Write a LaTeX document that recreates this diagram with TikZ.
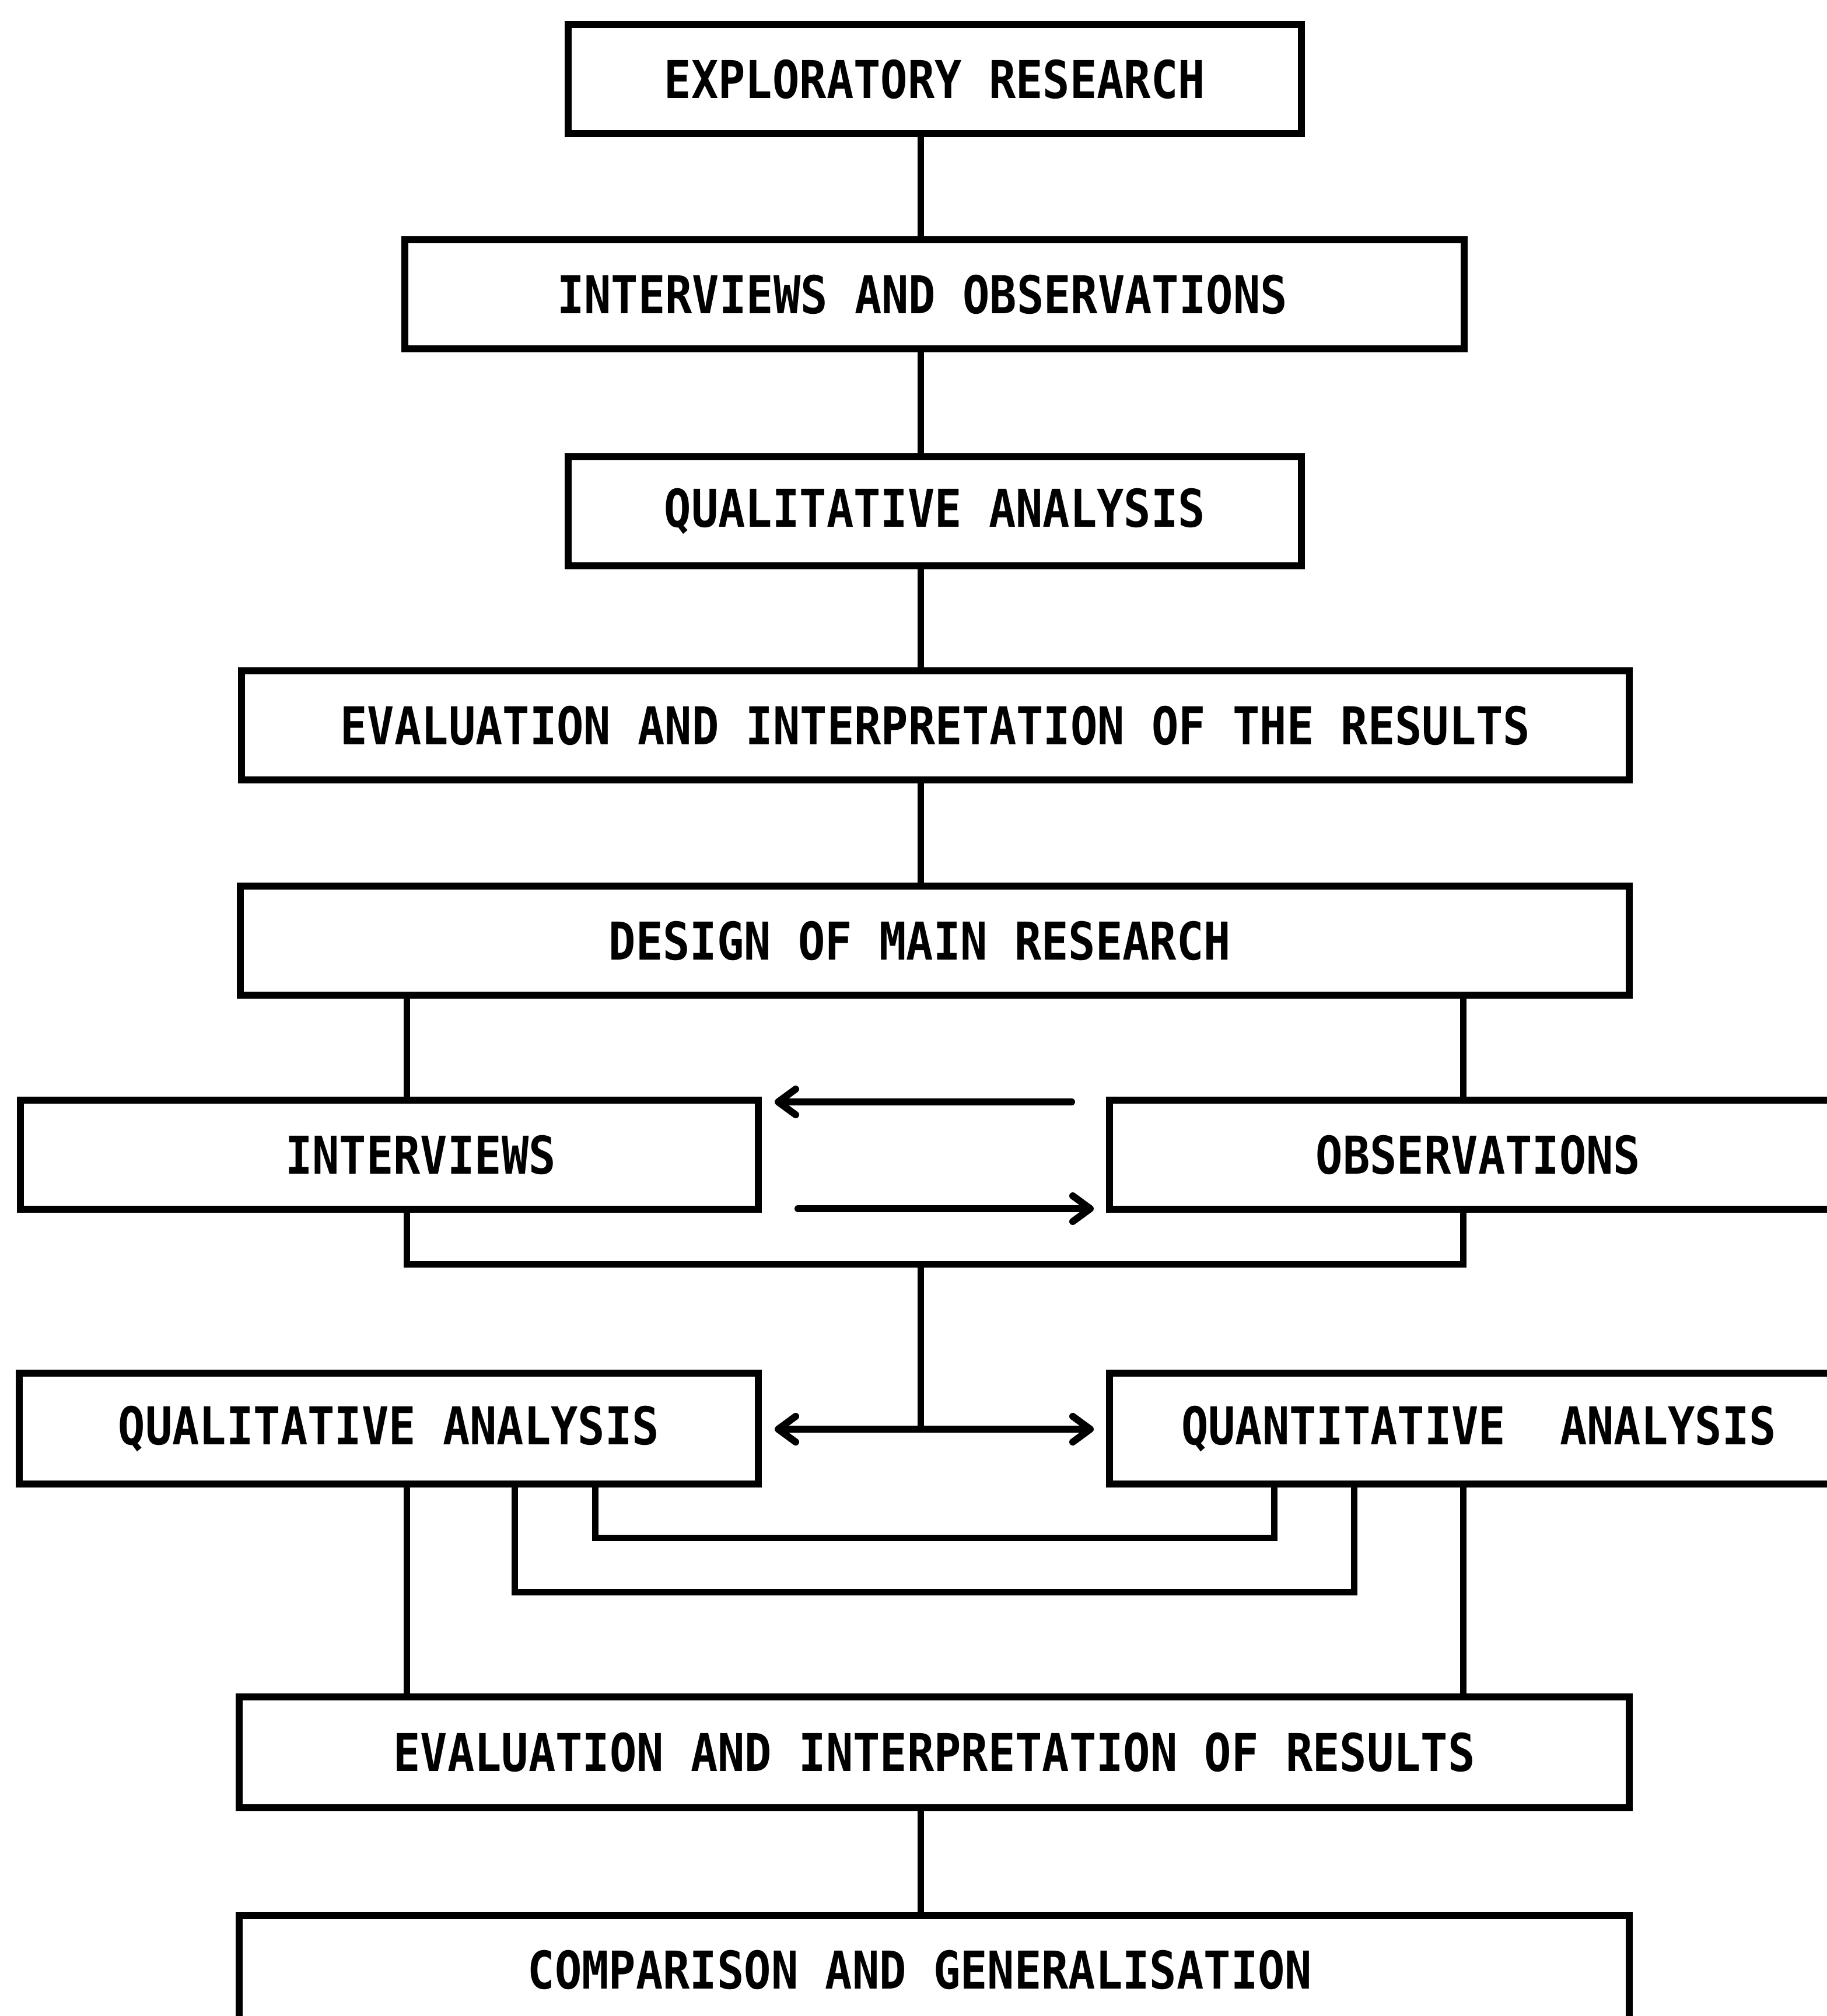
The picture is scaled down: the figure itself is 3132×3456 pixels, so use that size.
\documentclass[tikz,border=0pt]{standalone}
\usepackage{fontspec}
\usepackage{graphicx}
\newfontfamily\plotfont{DejaVu Sans Mono}
\usetikzlibrary{arrows.meta}
\newcommand\lblfont{\plotfont\bfseries\fontsize{77}{80}\selectfont}
\newcommand\vs[1]{\scalebox{1}[1.16]{#1}}
\begin{document}
\begin{tikzpicture}[x=1pt,y=-1pt,
  box/.style={draw, line width=12pt, minimum height=187pt, inner sep=0pt, font=\lblfont},
  lbl/.style={inner sep=0pt, font=\lblfont},
  ln/.style={line width=11pt},
  arr/.style={line width=12pt, line cap=round, -{Straight Barb[length=30pt,width=44pt,line cap=round,line join=round]}},
  darr/.style={line width=12pt, line cap=round, {Straight Barb[length=30pt,width=44pt,line cap=round,line join=round]}-{Straight Barb[length=30pt,width=44pt,line cap=round,line join=round]}}]
\useasboundingbox (0,0) rectangle (3132,3456);
\clip (0,0) rectangle (3132,3456);
% boxes
\node[box, minimum width=1257pt] (b1) at (1602.5,135.5) {\vs{EXPLORATORY RESEARCH}};
\node[box, minimum width=1816pt] (b2) at (1602,504.5) {};
\node[lbl] (t2) at (1581,504.5) {\vs{INTERVIEWS AND OBSERVATIONS}};
\node[box, minimum width=1257pt] (b3) at (1602.5,876) {\vs{QUALITATIVE ANALYSIS}};
\node[box, minimum width=2379pt] (b4) at (1603.5,1243.5) {\vs{EVALUATION AND INTERPRETATION OF THE RESULTS}};
\node[box, minimum width=2381pt] (b5) at (1602.5,1612.5) {};
\node[lbl] (t5) at (1577,1612.5) {\vs{DESIGN OF MAIN RESEARCH}};
\node[box, minimum width=1265pt] (b6) at (667.5,1979.5) {};
\node[lbl] (t6) at (721,1979.5) {\vs{INTERVIEWS}};
\node[box, minimum width=1398pt] (b7) at (2601,1979.5) {};
\node[lbl] (t7) at (2534,1979.5) {\vs{OBSERVATIONS}};
\node[box, minimum width=1267pt, minimum height=190pt] (b8) at (666.5,2449) {\vs{QUALITATIVE ANALYSIS}};
\node[box, minimum width=1398pt, minimum height=190pt] (b9) at (2601,2449) {};
\node[lbl] (t9) at (2535,2449) {\vs{QUANTITATIVE\ \ ANALYSIS}};
\node[box, minimum width=2383pt, minimum height=190pt] (b10) at (1601.5,3004) {\vs{EVALUATION AND INTERPRETATION OF RESULTS}};
\node[box, minimum width=2383pt] (b11) at (1601.5,3377) {};
\node[lbl] (t11) at (1577,3377) {\vs{COMPARISON AND GENERALISATION}};
% guide coordinates
\coordinate (cx) at (1578,0);
\coordinate (lx) at (697,0);
\coordinate (rx) at (2508,0);
\coordinate (yb) at (0,2167);
\coordinate (yd) at (0,2450);
\coordinate (ix1) at (1020,0);
\coordinate (ix2) at (2184,0);
\coordinate (iy) at (0,2636);
\coordinate (ox1) at (882,0);
\coordinate (ox2) at (2321,0);
\coordinate (oy) at (0,2729);
\coordinate (ta1) at (1837,1889);
\coordinate (ta2) at (1328,1889);
\coordinate (ba1) at (1368,2072);
\coordinate (ba2) at (1875,2072);
\coordinate (dl) at (1328,2450);
\coordinate (dr) at (1875,2450);
% connectors
\draw[ln] (b1.south -| cx) -- (b2.north -| cx);
\draw[ln] (b2.south -| cx) -- (b3.north -| cx);
\draw[ln] (b3.south -| cx) -- (b4.north -| cx);
\draw[ln] (b4.south -| cx) -- (b5.north -| cx);
\draw[ln] (b5.south -| lx) -- (b6.north -| lx);
\draw[ln] (b5.south -| rx) -- (b7.north -| rx);
\draw[arr] (ta1) -- (ta2);
\draw[arr] (ba1) -- (ba2);
\draw[ln] (b6.south -| lx) |- (yb -| rx) -- (b7.south -| rx);
\draw[ln] (yb -| cx) -- (yd -| cx);
\draw[darr] (dl) -- (dr);
\draw[ln] (b8.south -| ix1) |- (iy -| ix2) -- (b9.south -| ix2);
\draw[ln] (b8.south -| ox1) |- (oy -| ox2) -- (b9.south -| ox2);
\draw[ln] (b8.south -| lx) -- (b10.north -| lx);
\draw[ln] (b9.south -| rx) -- (b10.north -| rx);
\draw[ln] (b10.south -| cx) -- (b11.north -| cx);
\end{tikzpicture}
\end{document}
